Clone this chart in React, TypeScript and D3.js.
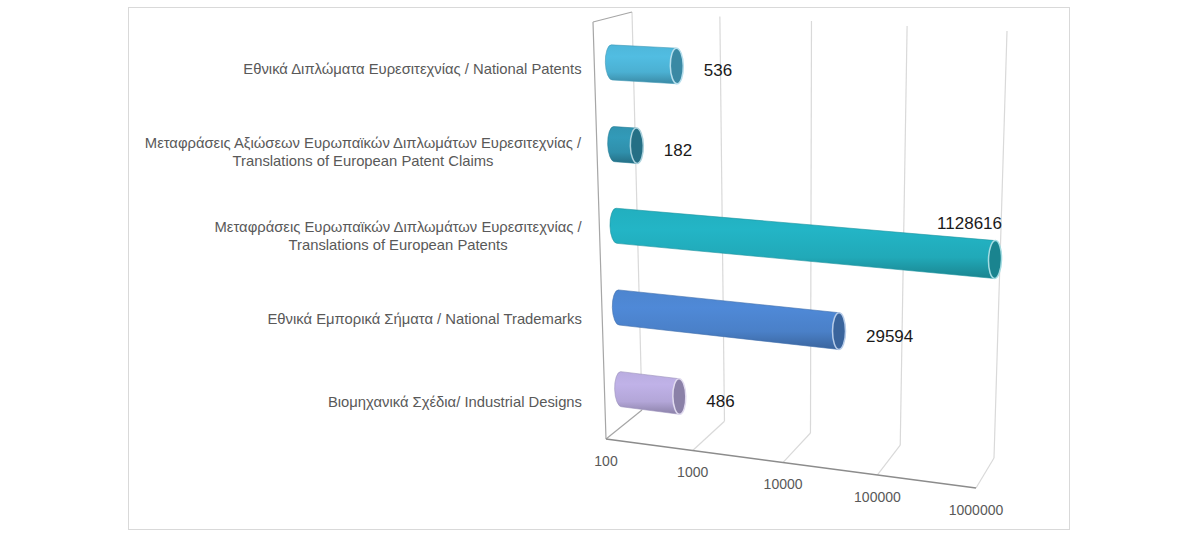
import React from 'react';
import * as d3 from 'd3';

// chart data (top to bottom, as in the picture)
const categoryLabels: string[][] = [
  ['Εθνικά Διπλώματα Ευρεσιτεχνίας / National Patents'],
  ['Μεταφράσεις Αξιώσεων Ευρωπαϊκών Διπλωμάτων Ευρεσιτεχνίας /', 'Translations of European Patent Claims'],
  ['Μεταφράσεις Ευρωπαϊκών Διπλωμάτων Ευρεσιτεχνίας /', 'Translations of European Patents'],
  ['Εθνικά Εμπορικά Σήματα / National Trademarks'],
  ['Βιομηχανικά Σχέδια/ Industrial Designs'],
];
const values = [536, 182, 1128616, 29594, 486];
const barColors = ['#4bb0d2', '#2f8fab', '#21a9b8', '#4a80c8', '#b3a6d8'];
const tickValues = [100, 1000, 10000, 100000, 1000000];

const width = 1200;
const height = 536;
const font = 'Liberation Sans, Arial, sans-serif';

type Pt = [number, number];

// projected corners of the 3D plot box (front/back, bottom/top, left/right)
const box = {
  fbl: [606, 439] as Pt, fbr: [976, 488] as Pt,
  bbl: [642, 410] as Pt, bbr: [994, 458] as Pt,
  ftl: [593, 22] as Pt, ftr: [986, 38] as Pt,
  btl: [632, 12] as Pt, btr: [1007, 31] as Pt,
};
const perspective = -0.082;

const xLog = d3.scaleLog().domain([100, 1000000]).range([0, 1]);
const hScale = d3.scalePoint<number>().domain(d3.range(values.length)).range([0.89, 0.09]);

const lerp = (a: Pt, b: Pt, u: number): Pt => [a[0] + (b[0] - a[0]) * u, a[1] + (b[1] - a[1]) * u];

// value, depth (0 front .. 1 back), height (0 floor .. 1 top) -> screen
function project(v: number, d: number, h: number): Pt {
  const t = xLog(v);
  const f = (t * (1 + perspective)) / (1 + perspective * t);
  const bottom = lerp(lerp(box.fbl, box.fbr, f), lerp(box.bbl, box.bbr, f), d);
  const top = lerp(lerp(box.ftl, box.ftr, f), lerp(box.btl, box.btr, f), d);
  return lerp(bottom, top, h);
}

const barDepth = 0.45;
const barRadius = 0.043;
const capRx = 6.5;

let measureCtx: CanvasRenderingContext2D | null = null;
function textWidth(s: string, size: number) {
  if (!measureCtx) measureCtx = document.createElement('canvas').getContext('2d');
  if (!measureCtx) return s.length * size * 0.5;
  measureCtx.font = `${size}px ${font}`;
  return measureCtx.measureText(s).width;
}

const line = (a: Pt, b: Pt) => `M${a[0]},${a[1]}L${b[0]},${b[1]}`;

export default function App() {
  const labelSize = 14.8;
  const labelRight = 582;

  const bars = values.map((v, i) => {
    const h = hScale(i) as number;
    const p0t = project(100, barDepth, h + barRadius);
    const p0b = project(100, barDepth, h - barRadius);
    const p1t = project(v, barDepth, h + barRadius);
    const p1b = project(v, barDepth, h - barRadius);
    const ry0 = Math.hypot(p0b[0] - p0t[0], p0b[1] - p0t[1]) / 2;
    const ry1 = Math.hypot(p1b[0] - p1t[0], p1b[1] - p1t[1]) / 2;
    const rot0 = (Math.atan2(p0b[1] - p0t[1], p0b[0] - p0t[0]) * 180) / Math.PI - 90;
    const rot1 = (Math.atan2(p1b[1] - p1t[1], p1b[0] - p1t[0]) * 180) / Math.PI - 90;
    const cap = lerp(p1t, p1b, 0.5);
    const body =
      `M${p0t[0]},${p0t[1]}L${p1t[0]},${p1t[1]}L${p1b[0]},${p1b[1]}L${p0b[0]},${p0b[1]}` +
      `A${capRx},${ry0} ${rot0} 0 1 ${p0t[0]},${p0t[1]}Z`;
    const base = d3.color(barColors[i])!;
    return { v, i, body, cap, ry1, rot1, base };
  });

  return (
    <svg
      width={width}
      height={height}
      style={{ position: 'absolute', left: 0, top: 0, background: '#fff' }}
      fontFamily={font}
    >
      <defs>
        {bars.map((b) => (
          <linearGradient key={b.i} id={`cyl${b.i}`} x1="0" y1="0" x2="0" y2="1">
            <stop offset="0%" stopColor={b.base.brighter(0.1).formatHex()} />
            <stop offset="30%" stopColor={b.base.brighter(0.2).formatHex()} />
            <stop offset="70%" stopColor={b.base.formatHex()} />
            <stop offset="100%" stopColor={b.base.darker(0.7).formatHex()} />
          </linearGradient>
        ))}
      </defs>

      <rect x={128.5} y={7.5} width={941} height={522} fill="#fff" stroke="#d9d9d9" />

      {/* back wall and floor gridlines */}
      {tickValues.map((tv, k) => (
        <g key={tv} fill="none">
          <path d={line(project(tv, 1, 0), project(tv, 1, 1))} stroke="#d9d9d9" strokeWidth={1.2} />
          <path d={line(project(tv, 0, 0), project(tv, 1, 0))} stroke={k === 0 ? '#a6a6a6' : '#d9d9d9'} strokeWidth={1.2} />
        </g>
      ))}
      {/* left wall */}
      <path d={line(box.fbl, box.ftl) + line(box.ftl, box.btl)} stroke="#a6a6a6" strokeWidth={1.2} fill="none" />
      {/* front floor edge */}
      <path d={line(project(100, 0, 0), project(1000000, 0, 0))} stroke="#8c8c8c" strokeWidth={1.5} fill="none" />

      {/* cylinders */}
      {bars.map((b) => (
        <g key={b.i}>
          <path d={b.body} fill={`url(#cyl${b.i})`} stroke={b.base.darker(0.4).formatHex()} strokeWidth={0.6} />
          <ellipse
            cx={b.cap[0]}
            cy={b.cap[1]}
            rx={capRx}
            ry={b.ry1}
            transform={`rotate(${b.rot1} ${b.cap[0]} ${b.cap[1]})`}
            fill={b.base.darker(0.7).formatHex()}
            stroke={d3.interpolateRgb(b.base.formatHex(), '#ffffff')(0.6)}
            strokeWidth={1.5}
          />
        </g>
      ))}

      {/* value labels */}
      {bars.map((b) => {
        const over = b.v > xLog.domain()[1];
        return (
          <text
            key={b.i}
            x={over ? b.cap[0] + 7 : b.cap[0] + 27}
            y={over ? b.cap[1] - 35 : b.cap[1] + 6}
            textAnchor={over ? 'end' : 'start'}
            dominantBaseline="middle"
            fontSize={17}
            fill="#1a1a1a"
          >
            {b.v}
          </text>
        );
      })}

      {/* category labels */}
      {categoryLabels.map((lines, i) => {
        const h = hScale(i) as number;
        const cy = project(100, 0, h)[1] + 2;
        const maxW = d3.max(lines, (s) => textWidth(s, labelSize)) || 0;
        const cx = labelRight - maxW / 2;
        return (
          <text key={i} fontSize={labelSize} fill="#595959" textAnchor="middle" dominantBaseline="middle">
            {lines.map((s, j) => (
              <tspan key={j} x={cx} y={cy + (j - (lines.length - 1) / 2) * 18}>
                {s}
              </tspan>
            ))}
          </text>
        );
      })}

      {/* value axis ticks */}
      {tickValues.map((tv) => {
        const p = project(tv, 0, 0);
        return (
          <text key={tv} x={p[0]} y={p[1] + 23} fontSize={14} fill="#595959" textAnchor="middle" dominantBaseline="middle">
            {tv}
          </text>
        );
      })}
    </svg>
  );
}
